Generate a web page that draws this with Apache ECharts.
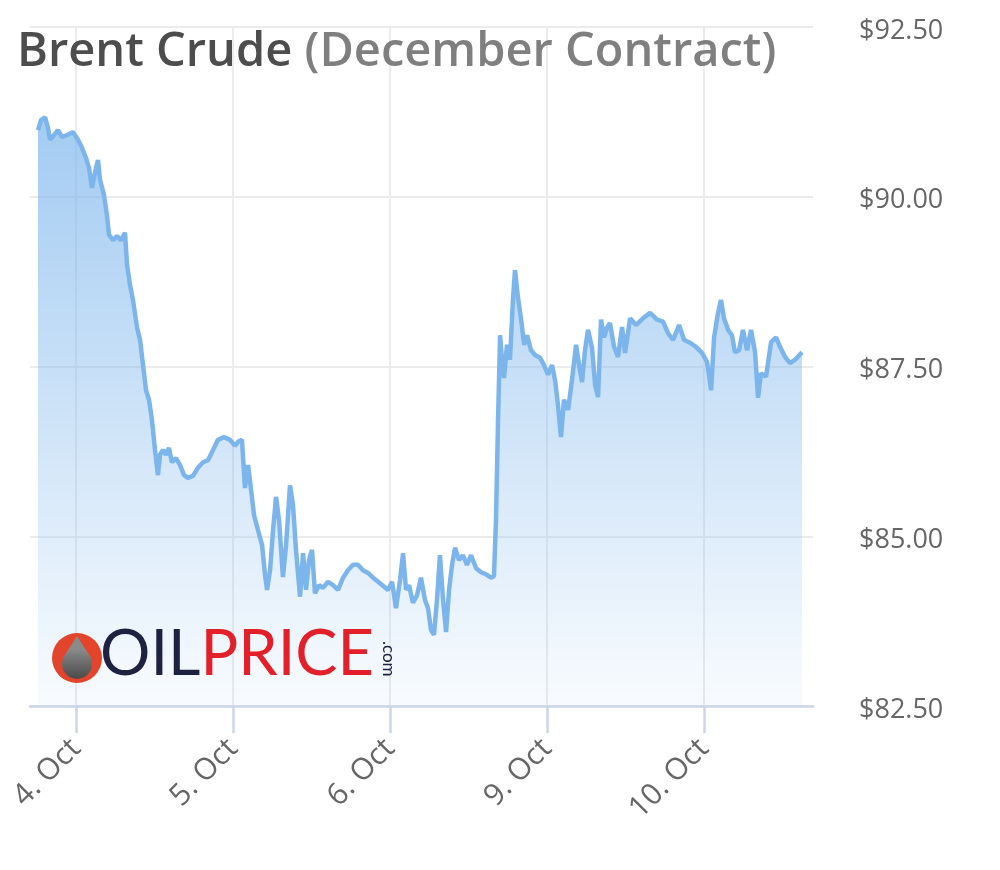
<!DOCTYPE html>
<html>
<head>
<meta charset="utf-8">
<script src="https://cdn.jsdelivr.net/npm/echarts@6/dist/echarts.min.js"></script>
<style>html,body{margin:0;padding:0;background:#fff}#c{width:1000px;height:870px}</style>
</head>
<body>
<div id="c"></div>
<script>
// Trading-day tick labels (ordinal axis: weekend skipped)
const dayLabels = ['4. Oct', '5. Oct', '6. Oct', '9. Oct', '10. Oct'];
const dayTicks = [0, 1, 2, 3, 4];
const yTicks = [82.5, 85, 87.5, 90, 92.5];

// time position in trading days (0 = 4 Oct)
const times = [
-0.242,-0.223,-0.197,-0.178,-0.166,-0.140,-0.115,-0.089,-0.057,-0.019,
0.013,0.038,0.064,0.083,0.102,0.121,0.140,0.153,0.178,0.197,
0.210,0.236,0.261,0.287,0.312,0.325,0.344,0.363,0.389,0.408,
0.427,0.446,0.465,0.484,0.503,0.522,0.535,0.554,0.573,0.592,
0.611,0.637,0.662,0.688,0.713,0.745,0.777,0.809,0.841,0.873,
0.904,0.943,0.981,1.013,1.032,1.057,1.076,1.096,1.115,1.134,
1.159,1.185,1.204,1.217,1.236,1.255,1.274,1.293,1.306,1.318,
1.338,1.363,1.382,1.401,1.427,1.446,1.465,1.484,1.503,1.522,
1.548,1.573,1.605,1.637,1.669,1.701,1.732,1.764,1.796,1.828,
1.860,1.892,1.924,1.955,1.987,2.013,2.038,2.064,2.083,2.102,
2.121,2.146,2.172,2.197,2.223,2.242,2.261,2.280,2.299,2.318,
2.338,2.357,2.376,2.395,2.414,2.439,2.465,2.490,2.516,2.548,
2.580,2.611,2.643,2.662,2.675,2.688,2.701,2.713,2.726,2.745,
2.764,2.783,2.796,2.815,2.834,2.854,2.873,2.898,2.924,2.955,
2.981,3.006,3.032,3.051,3.070,3.089,3.108,3.134,3.159,3.185,
3.204,3.223,3.242,3.261,3.287,3.306,3.325,3.344,3.363,3.382,
3.401,3.427,3.452,3.478,3.497,3.529,3.567,3.611,3.656,3.701,
3.739,3.771,3.803,3.841,3.873,3.911,3.949,3.987,4.019,4.045,
4.064,4.089,4.108,4.127,4.153,4.178,4.197,4.223,4.248,4.274,
4.299,4.325,4.344,4.363,4.395,4.427,4.459,4.484,4.516,4.548,
4.580,4.624
];

// Brent December contract price, USD
const prices = [
90.98,91.13,91.17,91.01,90.84,90.91,90.98,90.88,90.91,90.95,
90.84,90.72,90.57,90.42,90.13,90.36,90.54,90.25,90.03,89.73,
89.44,89.36,89.42,89.36,89.47,89.00,88.70,88.48,88.07,87.89,
87.52,87.15,87.01,86.71,86.27,85.90,86.20,86.27,86.20,86.30,
86.09,86.15,86.05,85.90,85.86,85.89,86.01,86.09,86.12,86.27,
86.42,86.46,86.42,86.33,86.39,86.42,85.71,86.05,85.68,85.31,
85.09,84.87,84.43,84.21,84.50,85.09,85.58,85.24,84.80,84.40,
84.87,85.75,85.46,84.80,84.11,84.75,84.21,84.65,84.80,84.16,
84.28,84.24,84.33,84.28,84.21,84.39,84.50,84.58,84.58,84.50,
84.46,84.39,84.33,84.27,84.21,84.33,83.94,84.36,84.75,84.21,
84.28,84.02,84.13,84.39,84.06,83.94,83.62,83.55,84.06,84.72,
84.06,83.59,84.21,84.58,84.83,84.65,84.72,84.58,84.72,84.53,
84.47,84.44,84.39,84.41,85.24,86.71,87.96,87.60,87.33,87.82,
87.60,88.48,88.92,88.51,88.21,87.82,87.96,87.74,87.67,87.63,
87.52,87.38,87.52,87.30,86.93,86.46,87.01,86.86,87.30,87.82,
87.52,87.27,87.74,88.04,87.77,87.23,87.05,88.19,87.93,88.07,
88.14,87.79,87.64,88.08,87.70,88.21,88.11,88.21,88.29,88.19,
88.16,87.99,87.89,88.11,87.89,87.85,87.79,87.70,87.57,87.15,
87.93,88.29,88.48,88.21,88.04,87.96,87.71,87.74,88.04,87.74,
88.04,87.71,87.04,87.40,87.35,87.86,87.93,87.79,87.64,87.55,
87.60,87.71
];

const seriesData = times.map((t, i) => [t, prices[i]]);

const chart = echarts.init(document.getElementById('c'), null, {renderer: 'canvas'});
chart.setOption({
  animation: false,
  backgroundColor: '#ffffff',
  title: {
    left: 12, top: 24,
    text: '{a|Brent Crude }{b|(December Contract)}',
    textStyle: {
      rich: {
        a: {fontFamily: 'Open Sans', fontWeight: 600, fontSize: 47, color: '#4d4d4d'},
        b: {fontFamily: 'Open Sans', fontWeight: 600, fontSize: 47, color: '#7f7f7f'}
      }
    }
  },
  grid: {left: 30, right: 187, top: 27, bottom: 164, containLabel: false},
  xAxis: {
    type: 'value',
    min: -0.293, max: 4.694,
    axisLine: {show: true, onZero: false, lineStyle: {color: '#ccd6eb', width: 2.5}},
    axisTick: {show: true, customValues: dayTicks, length: 27, lineStyle: {color: '#ccd6eb', width: 2.5}},
    axisLabel: {
      customValues: dayTicks,
      rotate: 45, margin: 38,
      fontFamily: 'Open Sans', fontSize: 30, color: '#666666',
      formatter: v => dayLabels[Math.round(v)]
    },
    splitLine: {show: true, lineStyle: {color: '#ececec', width: 2}}
  },
  yAxis: {
    type: 'value', position: 'right',
    min: 82.5, max: 92.5, interval: 2.5,
    axisLine: {show: false}, axisTick: {show: false},
    axisLabel: {
      margin: 46,
      formatter: v => '{v|$' + v.toFixed(2) + '}',
      rich: {
        v: {fontFamily: 'Open Sans', fontSize: 27, color: '#666666', padding: [8, 0, 0, 0]}
      }
    },
    splitLine: {show: true, lineStyle: {color: '#ececec', width: 2}}
  },
  graphic: [
    {type: 'circle', shape: {cx: 77, cy: 658, r: 25}, style: {fill: '#e2452b'}, z: 10},
    {type: 'polygon', shape: {points: [[77, 636], [63, 658], [91, 658]]}, style: {fill: '#8a8a8a'}, z: 11},
    {type: 'circle', shape: {cx: 77, cy: 664, r: 15},
     style: {fill: new echarts.graphic.LinearGradient(0,0,0,1,[{offset:0,color:'#8a8a8a'},{offset:1,color:'#4a4a4a'}])}, z: 11},
    {type: 'text', left: 100, top: 623, z: 10,
     style: {text: '{o|OIL}{p|PRICE}', rich: {
       o: {fontFamily: 'Lato', fontSize: 63, fill: '#1d2240'},
       p: {fontFamily: 'Lato', fontSize: 63, fill: '#e3202a'}
     }}},
    {type: 'text', x: 397, y: 641, rotation: -Math.PI/2, z: 10,
     style: {text: '.com', fontFamily: 'Lato', fontSize: 17, fill: '#1d2240'}}
  ],
  series: [{
    type: 'line',
    data: seriesData,
    showSymbol: false,
    symbol: 'none',
    lineStyle: {color: '#7cb5ec', width: 4.5},
    areaStyle: {
      opacity: 1,
      color: new echarts.graphic.LinearGradient(0, 0, 0, 1, [
        {offset: 0, color: 'rgba(124,181,236,0.7)'},
        {offset: 0.5, color: 'rgba(124,181,236,0.38)'},
        {offset: 1, color: 'rgba(124,181,236,0.05)'}
      ])
    },
    z: 2
  }]
});
</script>
</body>
</html>
